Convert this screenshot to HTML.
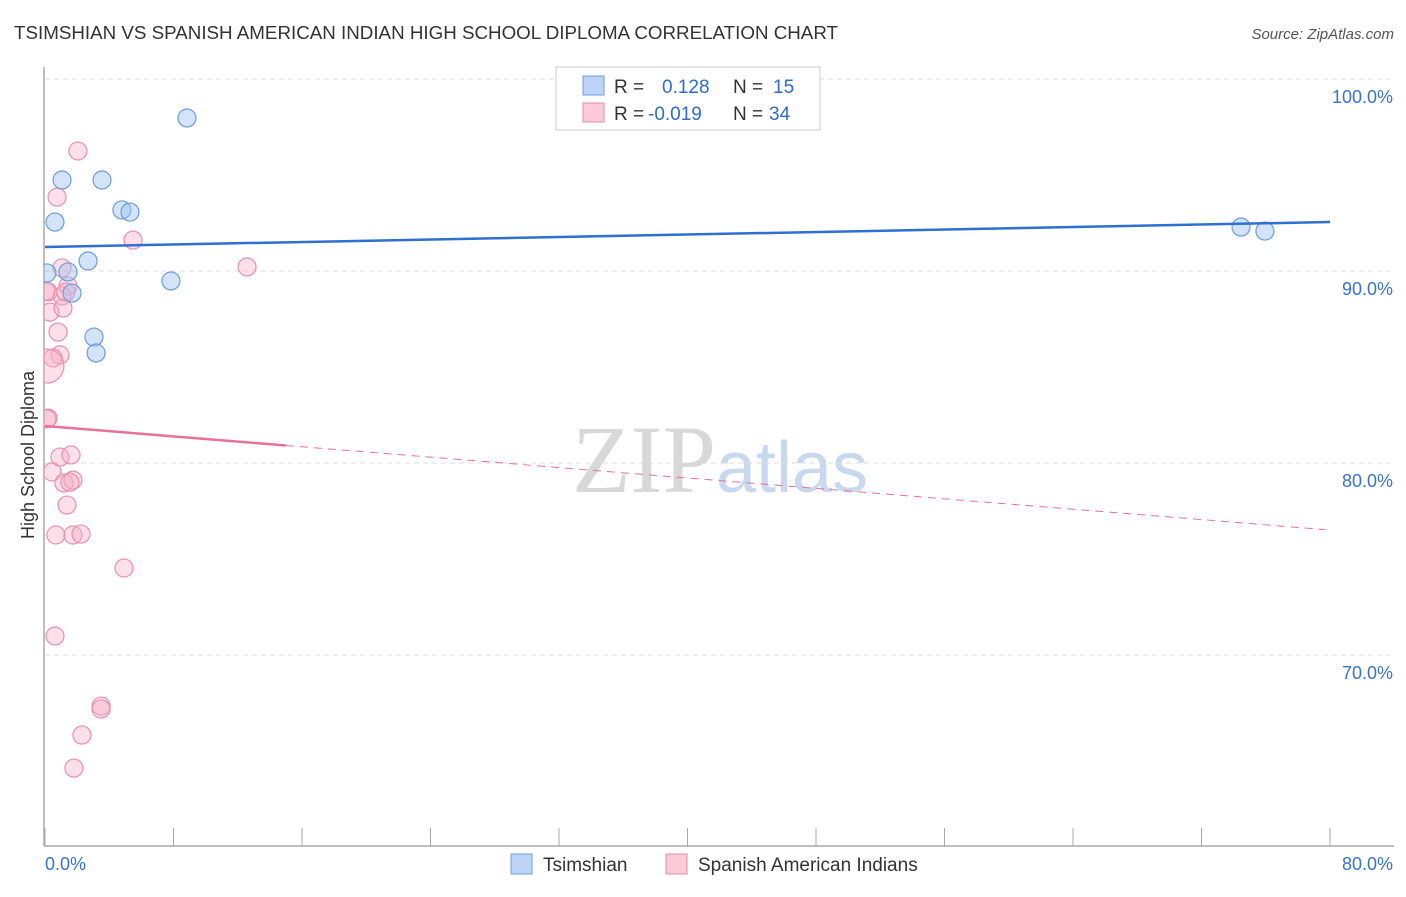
<!DOCTYPE html>
<html><head><meta charset="utf-8"><style>
body{margin:0;background:#fff;font-family:"Liberation Sans",sans-serif;}
svg text{font-family:"Liberation Sans",sans-serif;}
</style></head><body>
<svg width="1406" height="892" xmlns="http://www.w3.org/2000/svg" id="chart">
<defs><clipPath id="plotclip"><rect x="44" y="60" width="1360" height="786"/></clipPath></defs>
<text x="14" y="39" font-size="18" fill="#333" textLength="824" lengthAdjust="spacingAndGlyphs">TSIMSHIAN VS SPANISH AMERICAN INDIAN HIGH SCHOOL DIPLOMA CORRELATION CHART</text>
<text x="1394" y="39" font-size="15" fill="#555" text-anchor="end" font-style="italic">Source: ZipAtlas.com</text>
<text x="0" y="0" transform="translate(34,455) rotate(-90)" font-size="18" fill="#333" text-anchor="middle">High School Diploma</text>
<text x="720" y="492" font-size="96" fill="#d8d8d8" text-anchor="middle" font-family="Liberation Serif"><tspan font-family="Liberation Serif">ZIP</tspan><tspan fill="#c8d8ee" font-family="Liberation Sans" font-size="72">atlas</tspan></text>
<g id="grid"></g><g id="axes"></g><g id="marks" clip-path="url(#plotclip)"></g>
<g>
<rect x="556" y="67" width="264" height="63" fill="#fff" stroke="#ccc"/>
<rect x="583" y="76" width="21" height="19" fill="#bcd5f7" stroke="#6d9de0"/>
<rect x="583" y="103" width="21" height="19" fill="#fbcbd9" stroke="#e88aa8"/>
<text x="614" y="93" font-size="19" fill="#333">R = <tspan x="662" fill="#2e6ccc">0.128</tspan><tspan x="733" fill="#333">N = </tspan><tspan x="773" fill="#2e6ccc">15</tspan></text>
<text x="614" y="120" font-size="19" fill="#333">R = <tspan x="648" fill="#2e6ccc">-0.019</tspan><tspan x="733" fill="#333">N = </tspan><tspan x="769" fill="#2e6ccc">34</tspan></text>
</g>
<g>
<rect x="511" y="854" width="21" height="20" fill="#bcd5f7" stroke="#6d9de0"/>
<text x="543" y="871" font-size="19" fill="#333">Tsimshian</text>
<rect x="666" y="854" width="21" height="20" fill="#fbcbd9" stroke="#e88aa8"/>
<text x="698" y="871" font-size="19" fill="#333">Spanish American Indians</text>
</g>
</svg>
<script>
const yTicks=[100,90,80,70];
const yTickLabels=["100.0%","90.0%","80.0%","70.0%"];
const xTickLabels=["0.0%","80.0%"];
const blueX=[8.84,1.06,3.55,0.62,4.79,5.29,2.68,1.43,0.12,1.68,7.84,3.05,3.18,74.46,75.95];
const blueY=[97.97,94.74,94.74,92.55,93.18,93.07,90.52,89.95,89.90,88.85,89.48,86.56,85.73,92.29,92.08];
const pinkX=[2.05,0.75,5.48,1.06,12.58,1.43,1.06,0.19,0.31,1.12,0.81,0.93,0.50,0.12,0.19,0.93,1.62,0.44,1.18,1.74,1.37,0.68,1.74,2.24,4.92,0.62,3.49,3.49,2.30,1.80,0.06,1.30,0.12,1.55];
const pinkY=[96.25,93.85,91.61,90.16,90.21,89.22,88.70,88.91,87.86,88.07,86.82,85.63,85.47,85.05,82.34,80.31,80.42,79.53,78.96,79.11,77.81,76.25,76.25,76.30,74.53,70.99,67.34,67.19,65.83,64.11,88.95,88.90,82.30,79.00];
const blueTrend=[91.25,92.55];
const pinkTrend=[81.93,76.51];
const NS="http://www.w3.org/2000/svg";
const sx=v=>45+v*1285/80;
const sy=v=>79+(100-v)*19.2;
function mk(tag,attrs,parent){const e=document.createElementNS(NS,tag);for(const k in attrs)e.setAttribute(k,attrs[k]);document.getElementById(parent).appendChild(e);return e;}
yTicks.forEach((t,i)=>{
 const g=mk('line',{x1:45,x2:1394,y1:sy(t),y2:sy(t),stroke:'#ddd','stroke-dasharray':'5,4'},'grid');
 
 
 const l=mk('text',{x:1393,y:sy(t)+24,'font-size':18,fill:'#3a72d0','text-anchor':'end'},'grid');
 l.textContent=yTickLabels[i];
 
 
});
const ya=mk('line',{x1:44,x2:44,y1:67,y2:846,stroke:'#aaa','stroke-width':1.5},'axes');


const xa=mk('line',{x1:44,x2:1394,y1:846,y2:846,stroke:'#aaa','stroke-width':1.5},'axes');


for(let i=0;i<=10;i++){
 const t=mk('line',{x1:sx(i*8),x2:sx(i*8),y1:828,y2:846,stroke:'#aaa'},'axes');
 
 
}
const xl0=mk('text',{x:45,y:870,'font-size':18,fill:'#3a72d0'},'axes');xl0.textContent=xTickLabels[0];


const xl1=mk('text',{x:1393,y:870,'font-size':18,fill:'#3a72d0','text-anchor':'end'},'axes');xl1.textContent=xTickLabels[1];


pinkX.forEach((x,i)=>{
 const c=mk('circle',{cx:sx(x),cy:sy(pinkY[i]),r:(i==13?17:9),fill:'rgba(248,175,198,0.4)',stroke:'#eb8fae','stroke-width':1.2},'marks');
 
 
});
blueX.forEach((x,i)=>{
 const c=mk('circle',{cx:sx(x),cy:sy(blueY[i]),r:9,fill:'rgba(160,195,240,0.45)',stroke:'#6a9ce0','stroke-width':1.2},'marks');
 
 
});
const bt=mk('line',{x1:sx(0),y1:sy(blueTrend[0]),x2:sx(80),y2:sy(blueTrend[1]),stroke:'#2e6fd0','stroke-width':2.5},'marks');


const pm=pinkTrend[0]+(pinkTrend[1]-pinkTrend[0])*15/80;
const pt=mk('line',{x1:sx(0),y1:sy(pinkTrend[0]),x2:sx(15),y2:sy(pm),stroke:'#e8709a','stroke-width':2.5},'marks');


const pd=mk('line',{x1:sx(15),y1:sy(pm),x2:sx(79.7),y2:sy(pinkTrend[0]+(pinkTrend[1]-pinkTrend[0])*79.7/80),stroke:'#e8709a','stroke-width':1,'stroke-dasharray':'8,6'},'marks');


</script>
</body></html>
